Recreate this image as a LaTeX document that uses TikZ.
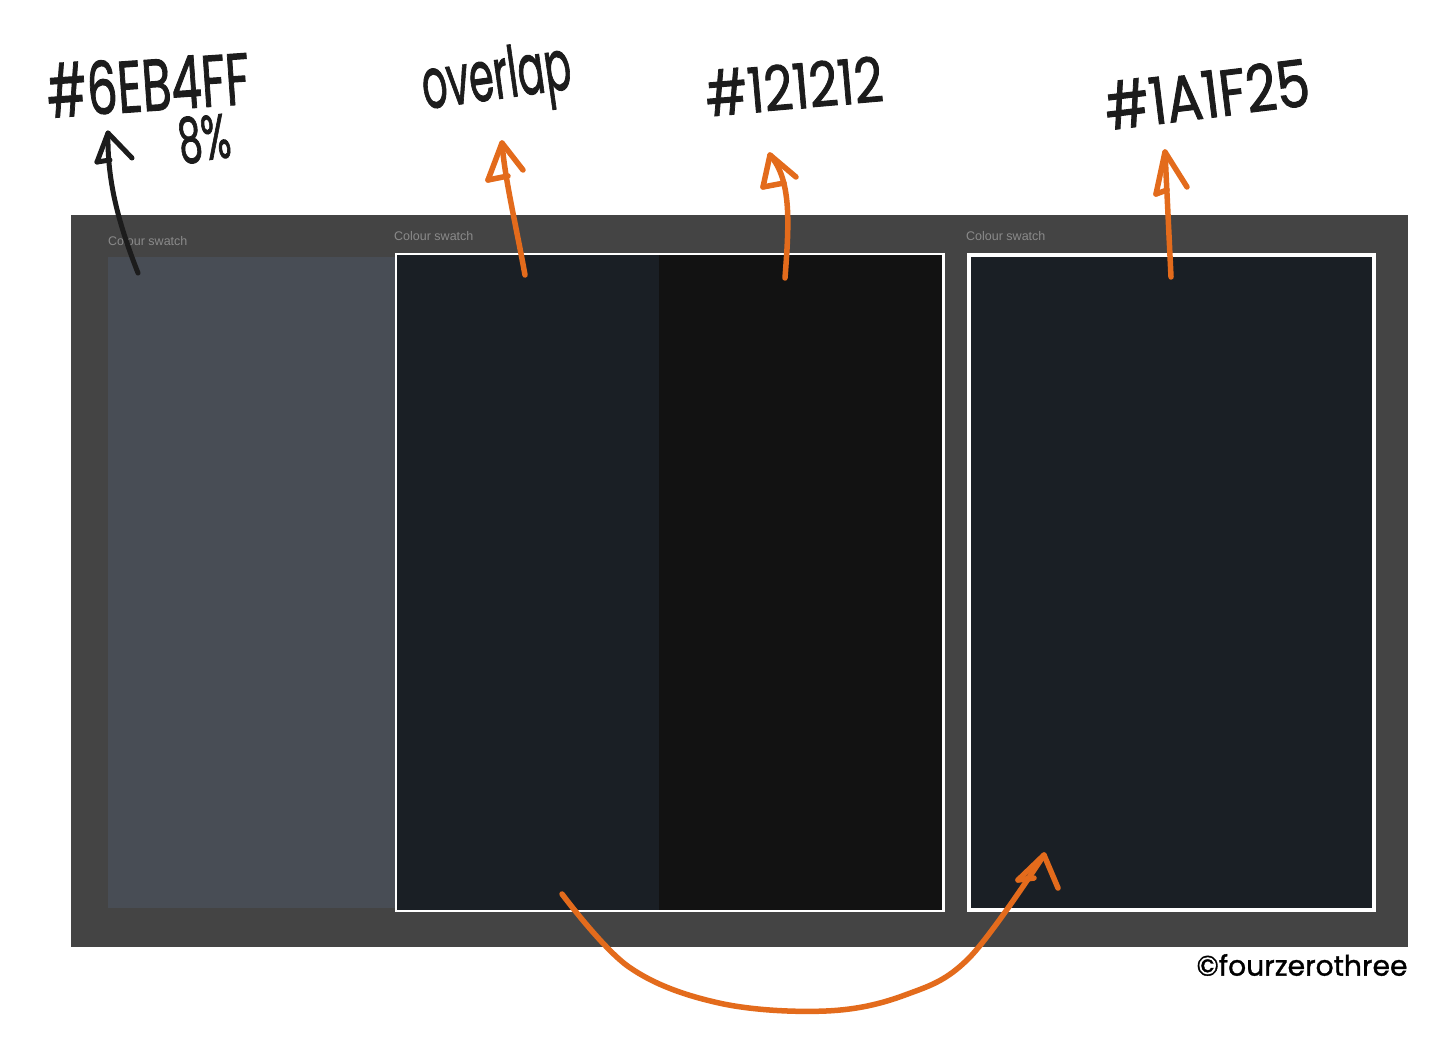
\documentclass[tikz,border=0pt]{standalone}
\usepackage{fontspec}
\usepackage{graphicx}
\setmainfont{Liberation Sans}
\newfontfamily\handfont{Poppins}[FakeBold=1.5]
\newfontfamily\signfont{Poppins}[FakeBold=1.2]
\definecolor{panelgrey}{HTML}{444444}
\definecolor{tintswatch}{HTML}{484D55}
\definecolor{blueblack}{HTML}{1A1F25}
\definecolor{nearblack}{HTML}{121212}
\definecolor{labelgrey}{HTML}{8A8A8A}
\definecolor{inkorange}{HTML}{E36B1C}
\definecolor{inkblack}{HTML}{1C1C1C}
\tikzset{
  swatchlabel/.style={font=\fontsize{12.5}{14}\selectfont, text=labelgrey, anchor=base west, inner sep=0pt},
  handtext/.style={font=\handfont, text=inkblack, inner sep=0pt},
  orangeink/.style={draw=inkorange, line width=5.5pt, line cap=round, line join=round},
  blackink/.style={draw=inkblack, line width=5pt, line cap=round, line join=round},
  whiteframe/.style={draw=white, line width=2.5pt}
}
\begin{document}
\begin{tikzpicture}[x=1pt,y=-1pt]
\useasboundingbox[fill=white] (0,0) rectangle (1456,1057);

% panel and swatches
\fill[panelgrey] (71,215) rectangle (1408,947);
\fill[tintswatch] (108,257) rectangle (396,908);
\fill[blueblack] (396,254) rectangle (659,911);
\fill[nearblack] (659,254) rectangle (943,911);
\draw[whiteframe] (396,254) rectangle (943.5,911);
\fill[blueblack] (968,254) rectangle (1375,911);
\draw[white, line width=4pt] (969,255) rectangle (1374,910);

\node[swatchlabel] (lab1) at (108,245) {Colour swatch};
\node[swatchlabel] (lab2) at (394,240) {Colour swatch};
\node[swatchlabel] (lab3) at (966,240) {Colour swatch};

% handwritten labels
\node[handtext, rotate=4] (hex1) at (148,84) {\resizebox{203pt}{54pt}{\#6EB4FF}};
\node[handtext, rotate=8] (pct) at (204,138) {\resizebox{52pt}{46pt}{8\%}};
\node[handtext, rotate=8] (ovl) at (497,82) {\resizebox{150pt}{52pt}{overlap}};
\node[handtext, rotate=5] (hex2) at (794,86) {\resizebox{178pt}{46pt}{\#121212}};
\node[handtext, rotate=7] (hex3) at (1207,94) {\resizebox{206pt}{48pt}{\#1A1F25}};
\node[font=\signfont, text=black, inner sep=0pt] (copy) at (1302,965) {\resizebox{211pt}{!}{\textcopyright fourzerothree}};

% black arrow
\coordinate (b0) at (138,273);
\coordinate (bt) at (108,133);
\draw[blackink] (b0) .. controls (118,222) and (107,180) .. (bt);
\draw[blackink] (97,162) -- (bt) -- (132,158);
\draw[blackink] (97,162) -- (110,160);

% overlap arrow
\coordinate (o0) at (525,275);
\coordinate (ot) at (502,143);
\draw[orangeink] (o0) .. controls (515,220) and (505,180) .. (ot);
\draw[orangeink] (488,180) -- (ot) -- (523,170);
\draw[orangeink] (488,180) -- (508,176);

% #121212 arrow
\coordinate (n0) at (785,278);
\coordinate (nt) at (770,155);
\draw[orangeink] (n0) .. controls (789,225) and (792,180) .. (nt);
\draw[orangeink] (763,187) -- (nt) -- (796,177);
\draw[orangeink] (763,187) -- (784,183);

% #1A1F25 arrow
\coordinate (r0) at (1171,277);
\coordinate (rt) at (1165,152);
\draw[orangeink] (r0) -- (rt);
\draw[orangeink] (1156,194) -- (rt) -- (1187,187);
\draw[orangeink] (1156,194) -- (1167,190);

% big curved arrow
\coordinate (c0) at (562,894);
\coordinate (ct) at (1044,855);
\draw[orangeink] plot[smooth, tension=0.6] coordinates {(c0) (629,967) (719,1003) (826,1011) (905,995) (969,958) (ct)};
\draw[orangeink] (1018,880) -- (ct) -- (1058,888);
\draw[orangeink] (1018,880) -- (1034,878);
\end{tikzpicture}
\end{document}
